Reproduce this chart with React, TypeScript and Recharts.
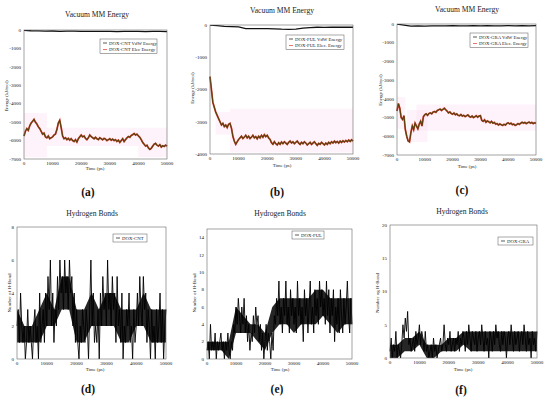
import React from 'react';
import { ComposedChart, Line, Area, XAxis, YAxis, ReferenceArea } from 'recharts';

// six-panel MD summary figure: MM energy (top) and H-bond count (bottom)

const SERIF = 'Liberation Serif, Times New Roman, serif';

const timeTicks = [0, 10000, 20000, 30000, 40000, 50000];
const ELEC_STEP = 500;
const VDW_STEP = 2500;
const HB_STEP = 400;
const CORE_STEP = 2500;

// --- Vacuum MM energy, kJ/mol ---
const cntElec = [
  -5750, -5500, -5350, -5450, -5200, -5050, -4950, -4850, -5000, -5100,
  -5250, -5350, -5500, -5650, -5600, -5800, -5850, -5750, -5900, -5850,
  -5800, -5700, -5650, -5400, -5050, -4900, -5300, -5750, -5900, -5850,
  -5950, -5880, -5980, -5900, -6000, -6050, -5950, -6080, -5900, -5800,
  -5700, -5800, -5750, -5880, -5950, -5850, -5700, -5780, -5850, -5900,
  -5820, -5900, -5950, -5850, -5900, -5960, -5880, -5920, -6000, -5950,
  -5900, -5980, -5920, -6000, -5950, -6050, -5980, -6100, -6000, -5900,
  -6050, -5950, -5850, -5780, -5820, -5720, -5680, -5620, -5700, -5650,
  -5750, -5820, -5950, -6100, -6200, -6300, -6250, -6400, -6480, -6420,
  -6300, -6200, -6150, -6250, -6300, -6220, -6350, -6280, -6320, -6250,
  -6300,
];
const cntVdw = [-20, -40, -50, -60, -55, -70, -60, -65, -80, -70, -75, -80, -70, -85, -75, -80, -70, -90, -80, -75, -85];

const fulElec = [
  -1600, -2000, -2400, -2550, -2700, -2800, -2900, -3000, -3100, -3050,
  -3150, -3100, -3180, -3080, -3050, -3200, -3450, -3600, -3700, -3620,
  -3550, -3500, -3450, -3520, -3480, -3420, -3500, -3450, -3520, -3480,
  -3420, -3500, -3460, -3530, -3450, -3500, -3420, -3480, -3400, -3460,
  -3420, -3500, -3550, -3650, -3700, -3620, -3680, -3720, -3650, -3700,
  -3630, -3680, -3620, -3660, -3700, -3640, -3600, -3660, -3620, -3680,
  -3640, -3600, -3660, -3700, -3640, -3680, -3620, -3660, -3720, -3680,
  -3640, -3700, -3660, -3620, -3680, -3730, -3670, -3700, -3640, -3680,
  -3720, -3660, -3700, -3640, -3680, -3620, -3660, -3600, -3650, -3610,
  -3660, -3600, -3640, -3590, -3630, -3580, -3620, -3570, -3610, -3560,
  -3600,
];
const fulVdw = [0, -20, -40, -50, -60, -110, -110, -115, -110, -120, -130, -135, -125, -100, -80, -70, -75, -70, -65, -70, -70];

const graElec = [
  -4650, -4250, -4500, -5000, -5100, -4900, -5650, -6000, -6250, -6300,
  -5800, -5450, -5650, -5300, -5450, -5600, -5350, -5200, -5450, -4950,
  -4850, -4800, -4880, -4780, -4750, -4800, -4700, -4680, -4720, -4620,
  -4580, -4550, -4620, -4560, -4500, -4580, -4650, -4750, -4700, -4780,
  -4820, -4760, -4850, -4800, -4880, -4900, -4840, -4920, -4880, -4950,
  -4900, -4860, -4940, -4980, -4920, -5000, -4960, -4900, -4980, -4920,
  -4900, -5150, -5200, -5120, -5250, -5180, -5220, -5280, -5200, -5300,
  -5260, -5350, -5320, -5400, -5340, -5380, -5420, -5360, -5400, -5320,
  -5280, -5340, -5300, -5380, -5350, -5420, -5380, -5320, -5360, -5300,
  -5250, -5300, -5260, -5320, -5280, -5240, -5300, -5260, -5320, -5280,
  -5300,
];
const graVdw = [-10, -60, -110, -100, -110, -100, -95, -100, -90, -95, -100, -90, -95, -90, -95, -100, -90, -95, -90, -95, -90];

// --- hydrogen bond counts (spiky trace) ---
const cntHbond = [
  2, 3, 1, 4, 2, 1,
  2, 0, 1, 3, 1, 2, 1, 0, 2, 3, 1, 2, 0, 4, 1,
  2, 3, 1, 4, 2, 5, 3, 6, 2, 4, 1, 3, 2, 5, 3,
  6, 4, 5, 3, 6, 4, 5, 3, 6, 4, 5, 2, 4, 1, 3,
  1, 0, 2, 1, 3, 2, 1, 3, 2, 0, 3, 6, 2, 4, 1,
  2, 1, 3, 0, 4, 2, 5, 3, 4, 2, 6, 3, 4, 2, 5,
  3, 4, 1, 5, 2, 3, 1, 4, 0, 2, 1, 3, 2, 4, 1,
  2, 0, 3, 1, 2, 4, 2, 5, 3, 2, 5, 3, 4, 1, 3,
  2, 0, 3, 1, 2, 0, 3, 1, 2, 4, 1, 3, 0, 2, 3,
];
const fulHbond = [
  1, 2, 0, 4, 1, 2,
  1, 3, 0, 2, 1, 2, 3, 1, 2, 0, 2, 1, 3, 1, 0,
  2, 1, 4, 3, 6, 4, 7, 5, 3, 6, 4, 7, 3, 5, 2,
  4, 1, 3, 2, 5, 3, 6, 4, 5, 2, 4, 1, 3, 0, 2,
  4, 1, 3, 2, 0, 3, 1, 5, 4, 7, 5, 9, 4, 6, 3,
  7, 5, 9, 4, 6, 3, 8, 5, 7, 4, 6, 3, 9, 5, 7,
  4, 6, 2, 8, 5, 7, 3, 6, 9, 4, 6, 3, 8, 5, 7,
  4, 9, 6, 8, 5, 7, 4, 9, 5, 8, 3, 7, 5, 8, 2,
  6, 4, 7, 3, 8, 5, 3, 7, 4, 6, 9, 5, 3, 7, 4,
];
const graHbond = [
  1, 3, 0, 2, 1, 4,
  0, 2, 1, 0, 2, 5, 3, 6, 4, 7, 2, 3, 1, 2, 3,
  1, 4, 2, 3, 5, 2, 4, 3, 1, 4, 1, 2, 0, 1, 2,
  0, 3, 1, 2, 0, 1, 2, 3, 1, 2, 5, 2, 1, 3, 2,
  4, 1, 2, 3, 1, 3, 2, 4, 1, 3, 2, 4, 3, 1, 4,
  2, 5, 3, 1, 4, 3, 2, 4, 1, 3, 4, 2, 5, 3, 1,
  4, 2, 3, 0, 4, 3, 1, 4, 2, 5, 3, 4, 2, 1, 4,
  2, 4, 3, 0, 3, 4, 2, 5, 3, 1, 4, 2, 3, 4, 1,
  3, 4, 2, 5, 3, 1, 4, 2, 3, 0, 4, 2, 3, 1, 4,
];

// dense core of the H-bond trace, low/high every 2500 ps
const cntCoreLow = [1, 1, 1, 1, 2, 2, 3, 3, 1, 1, 2, 2, 2, 2, 1, 1, 2, 2, 1, 1, 1];
const cntCoreHigh = [3, 2, 2, 3, 4, 3, 5, 5, 3, 3, 4, 3, 4, 4, 3, 3, 3, 4, 3, 3, 3];
const fulCoreLow = [1, 1, 1, 0, 3, 3, 3, 2, 1, 3, 4, 4, 3, 4, 4, 4, 5, 4, 3, 4, 4];
const fulCoreHigh = [2, 2, 2, 2, 6, 5, 4, 4, 3, 6, 7, 7, 7, 7, 7, 8, 8, 7, 7, 7, 7];
const graCoreLow = [0, 0, 1, 1, 2, 0, 0, 1, 1, 1, 2, 1, 1, 1, 1, 1, 1, 1, 1, 1, 1];
const graCoreHigh = [2, 2, 3, 3, 4, 2, 2, 2, 3, 3, 4, 4, 4, 4, 4, 4, 4, 4, 4, 4, 4];

type Box = { x0: number; y0: number; x1: number; y1: number };

const AXIS_W = 24;
const AXIS_H = 9;
const PAD_T = 4;
const PAD_R = 14;

const tickStyle = { fontSize: 5, fill: '#111', fontFamily: SERIF };

function Plot({ box, yDomain, yTicks, children }: { box: Box; yDomain: number[]; yTicks: number[]; children: React.ReactNode }) {
  const w = box.x1 - box.x0;
  const h = box.y1 - box.y0;
  return (
    <div style={{ position: 'absolute', left: box.x0 - AXIS_W, top: box.y0 - PAD_T }}>
      <ComposedChart
        width={w + AXIS_W + PAD_R}
        height={h + PAD_T + AXIS_H}
        margin={{ top: PAD_T, right: PAD_R, bottom: 0, left: 0 }}
      >
        <XAxis
          type="number"
          dataKey="t"
          domain={[0, 50000]}
          ticks={timeTicks}
          height={AXIS_H}
          tick={tickStyle}
          tickLine={false}
          axisLine={false}
          tickSize={2}
          tickMargin={0}
          interval={0}
        />
        <YAxis
          type="number"
          domain={yDomain}
          ticks={yTicks}
          width={AXIS_W}
          tick={tickStyle}
          tickLine={false}
          axisLine={false}
          tickSize={2}
          tickMargin={1}
          interval={0}
          allowDataOverflow
        />
        {children}
      </ComposedChart>
    </div>
  );
}

// faint pink blotches behind the electrostatic traces, as in the scanned figure
function pinkBands(bands: number[][]) {
  return bands.map((b, i) => (
    <ReferenceArea key={i} x1={b[0]} x2={b[1]} y1={b[2]} y2={b[3]} fill="#fce4f4" fillOpacity={0.45} stroke="none" ifOverflow="hidden" />
  ));
}

function energyPlot(box: Box, elec: number[], vdw: number[], yMin: number, yTicks: number[], bands: number[][]) {
  const elecData = elec.map((v, i) => ({ t: i * ELEC_STEP, v }));
  const vdwData = vdw.map((v, i) => ({ t: i * VDW_STEP, v }));
  return (
    <Plot box={box} yDomain={[yMin, 0]} yTicks={yTicks}>
      {pinkBands(bands)}
      <Line data={elecData} dataKey="v" stroke="#e04a3a" strokeWidth={1.8} dot={false} isAnimationActive={false} />
      <Line data={elecData} dataKey="v" stroke="#55400e" strokeWidth={1.1} dot={false} isAnimationActive={false} />
      <Line data={vdwData} dataKey="v" stroke="#111" strokeWidth={1.3} dot={false} isAnimationActive={false} />
    </Plot>
  );
}

function hbondPlot(box: Box, counts: number[], low: number[], high: number[], yMax: number, yTicks: number[]) {
  const data = counts.map((v, i) => ({ t: i * HB_STEP, v }));
  const core = low.map((lo, i) => ({ t: i * CORE_STEP, r: [lo, high[i]] }));
  return (
    <Plot box={box} yDomain={[0, yMax]} yTicks={yTicks}>
      <Area data={core} dataKey="r" type="linear" stroke="none" fill="#000" fillOpacity={0.85} isAnimationActive={false} />
      <Line data={data} dataKey="v" stroke="#000" strokeWidth={0.9} dot={false} isAnimationActive={false} />
    </Plot>
  );
}

const boxA: Box = { x0: 24, y0: 30, x1: 167, y1: 159 };
const boxB: Box = { x0: 210, y0: 25, x1: 353, y1: 154 };
const boxC: Box = { x0: 397, y0: 24, x1: 536, y1: 155 };
const boxD: Box = { x0: 17, y0: 227, x1: 166, y1: 359 };
const boxE: Box = { x0: 207, y0: 229, x1: 352, y1: 359 };
const boxF: Box = { x0: 390, y0: 225, x1: 537, y1: 358 };

function Legend({ x, y, w, rows }: { x: number; y: number; w: number; rows: { label: string; color: string }[] }) {
  const rh = 6.5;
  return (
    <g>
      <rect x={x} y={y} width={w} height={rows.length * rh + 1.5} fill="#fff" stroke="#555" strokeWidth={0.5} />
      {rows.map((r, i) => (
        <g key={r.label}>
          <line x1={x + 3} x2={x + 7} y1={y + 4 + i * rh} y2={y + 4 + i * rh} stroke={r.color} strokeWidth={0.7} />
          <text x={x + 9} y={y + 5.6 + i * rh} fontSize={4.8} fontFamily={SERIF} fill="#222">{r.label}</text>
        </g>
      ))}
    </g>
  );
}

function Frame({ b }: { b: Box }) {
  return <rect x={b.x0} y={b.y0} width={b.x1 - b.x0} height={b.y1 - b.y0} fill="none" stroke="#666" strokeWidth={0.6} />;
}

export default function App() {
  const titleSize = 7.6;
  const panelSize = 11.5;
  return (
    <div style={{ position: 'absolute', left: 0, top: 0, width: 550, height: 399, background: '#fff', overflow: 'hidden' }}>
      {energyPlot(boxA, cntElec, cntVdw, -7000, [-7000, -6000, -5000, -4000, -3000, -2000, -1000, 0],
        [[0, 8000, -4500, -6900], [8000, 50000, -5300, -6300], [40000, 50000, -6300, -6900]])}
      {energyPlot(boxB, fulElec, fulVdw, -4000, [-4000, -3000, -2000, -1000, 0],
        [[7000, 50000, -2600, -3950], [2000, 7000, -2700, -3400]])}
      {energyPlot(boxC, graElec, graVdw, -7000, [-7000, -6000, -5000, -4000, -3000, -2000, -1000, 0],
        [[0, 3000, -3900, -5600], [3500, 11000, -4600, -6300], [7000, 50000, -4300, -5700]])}
      {hbondPlot(boxD, cntHbond, cntCoreLow, cntCoreHigh, 8, [0, 2, 4, 6, 8])}
      {hbondPlot(boxE, fulHbond, fulCoreLow, fulCoreHigh, 15, [0, 2, 4, 6, 8, 10, 12, 14])}
      {hbondPlot(boxF, graHbond, graCoreLow, graCoreHigh, 20, [0, 5, 10, 15, 20])}

      <svg width={550} height={399} style={{ position: 'absolute', left: 0, top: 0, pointerEvents: 'none' }}>
        {[boxA, boxB, boxC, boxD, boxE, boxF].map((b, i) => <Frame key={i} b={b} />)}

        <g fontFamily={SERIF} fill="#222" textAnchor="middle">
          <text x={97} y={17} fontSize={titleSize}>Vacuum MM Energy</text>
          <text x={282} y={13} fontSize={titleSize}>Vacuum MM Energy</text>
          <text x={467} y={12} fontSize={titleSize}>Vacuum MM Energy</text>
          <text x={92} y={216} fontSize={titleSize}>Hydrogen Bonds</text>
          <text x={280} y={216} fontSize={titleSize}>Hydrogen Bonds</text>
          <text x={462} y={214} fontSize={titleSize}>Hydrogen Bonds</text>

          <text x={95} y={170} fontSize={4.8}>Time (ps)</text>
          <text x={282} y={167} fontSize={4.8}>Time (ps)</text>
          <text x={467} y={168} fontSize={4.8}>Time (ps)</text>
          <text x={95} y={371} fontSize={4.8}>Time (ps)</text>
          <text x={280} y={371} fontSize={4.8}>Time (ps)</text>
          <text x={463} y={371} fontSize={4.8}>Time (ps)</text>

          <text transform="rotate(-90 8 96)" x={8} y={96} fontSize={4.8}>Energy (kJ/mol)</text>
          <text transform="rotate(-90 194 88)" x={194} y={88} fontSize={4.8}>Energy (kJ/mol)</text>
          <text transform="rotate(-90 382 90)" x={382} y={90} fontSize={4.8}>Energy (kJ/mol)</text>
          <text transform="rotate(-90 11 293)" x={11} y={293} fontSize={5}>Number of H-Bond</text>
          <text transform="rotate(-90 196 293)" x={196} y={293} fontSize={5}>Number of H-Bond</text>
          <text transform="rotate(-90 379 293)" x={379} y={293} fontSize={5}>Number og H-Bond</text>
        </g>

        <g fontFamily={SERIF} fontWeight="bold" fill="#111" textAnchor="middle" fontSize={panelSize}>
          <text x={88} y={196}>(a)</text>
          <text x={277} y={196}>(b)</text>
          <text x={462} y={194}>(c)</text>
          <text x={88} y={393}>(d)</text>
          <text x={277} y={393}>(e)</text>
          <text x={461} y={394}>(f)</text>
        </g>

        <Legend x={100} y={39} w={57} rows={[{ label: 'DOX-CNT VdW Energy', color: '#111' }, { label: 'DOX-CNT Elec Energy', color: '#e2392f' }]} />
        <Legend x={286} y={35} w={58} rows={[{ label: 'DOX-FUL VdW Energy', color: '#111' }, { label: 'DOX-FUL Elec. Energy', color: '#e2392f' }]} />
        <Legend x={470} y={33} w={58} rows={[{ label: 'DOX-GRA VdW Energy', color: '#111' }, { label: 'DOX-GRA Elec. Energy', color: '#e2392f' }]} />
        <Legend x={113} y={234} w={34} rows={[{ label: 'DOX-CNT', color: '#111' }]} />
        <Legend x={292} y={231} w={32} rows={[{ label: 'DOX-FUL', color: '#111' }]} />
        <Legend x={498} y={237} w={35} rows={[{ label: 'DOX-GRA', color: '#111' }]} />
      </svg>
    </div>
  );
}
